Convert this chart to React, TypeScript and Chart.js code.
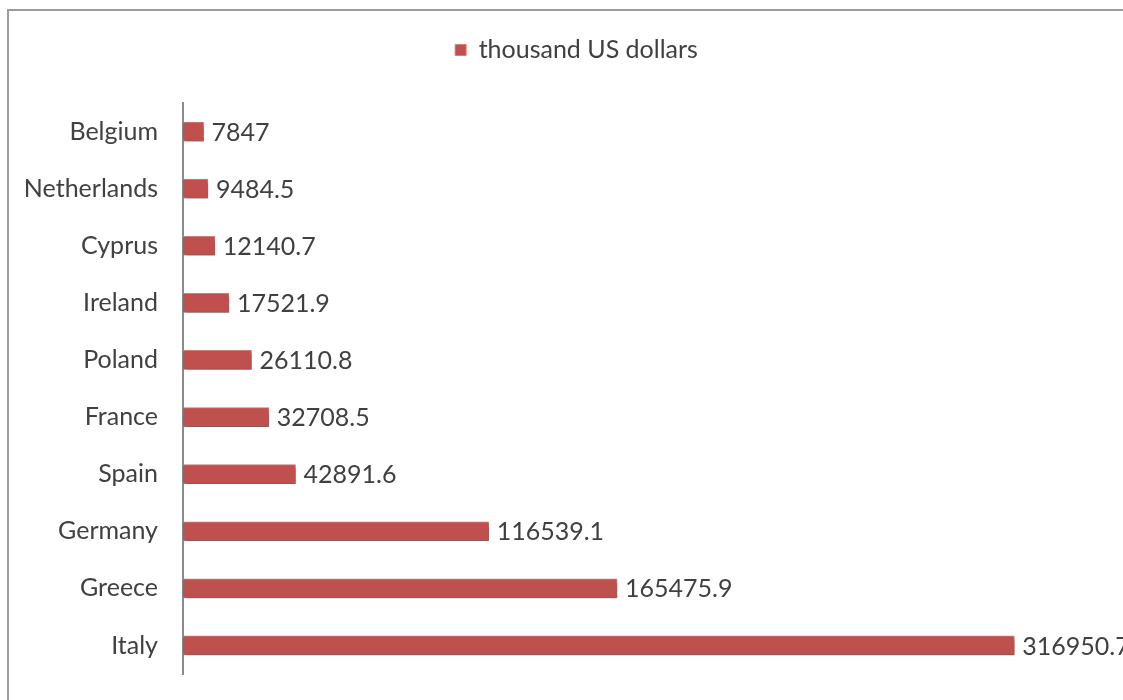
import React, { useEffect, useRef } from "react";
import { Chart, registerables } from "chart.js";

Chart.register(...registerables);

const categories = [
  "Belgium",
  "Netherlands",
  "Cyprus",
  "Ireland",
  "Poland",
  "France",
  "Spain",
  "Germany",
  "Greece",
  "Italy",
];
const values = [7847, 9484.5, 12140.7, 17521.9, 26110.8, 32708.5, 42891.6, 116539.1, 165475.9, 316950.7];
const seriesName = "thousand US dollars";
const axisMax = 350000;

const FONT = "Lato, 'Noto Sans', sans-serif";
const FS = 25;

const shadowPlugin = {
  id: "barShadow",
  beforeDatasetsDraw(chart: any) {
    const ctx = chart.ctx;
    ctx.save();
    ctx.shadowColor = "rgba(0,0,0,0.36)";
    ctx.shadowBlur = 4;
    ctx.shadowOffsetX = 2;
    ctx.shadowOffsetY = 3;
  },
  afterDatasetsDraw(chart: any) {
    chart.ctx.restore();
  },
};

const labelPlugin = {
  id: "valueLabels",
  afterDatasetsDraw(chart: any) {
    const ctx = chart.ctx;
    const meta = chart.getDatasetMeta(0);
    ctx.save();
    ctx.font = `${FS}px ${FONT}`;
    ctx.fillStyle = "#404040";
    ctx.textAlign = "left";
    ctx.textBaseline = "middle";
    meta.data.forEach((bar: any, i: number) => {
      const v = chart.data.datasets[0].data[i];
      ctx.fillText(String(v), bar.x + 8, bar.y + 1);
    });
    ctx.restore();
  },
};

// center the legend over the whole frame (Excel-style), not the padded area
const legendShift = {
  id: "legendShift",
  afterLayout(chart: any) {
    const lg = chart.legend;
    if (lg) {
      lg.left += 16;
      lg.right += 16;
    }
  },
};

export default function App() {
  const ref = useRef<HTMLCanvasElement>(null);
  useEffect(() => {
    if (!ref.current) return;
    const chart = new Chart(ref.current, {
      type: "bar",
      data: {
        labels: categories,
        datasets: [
          {
            label: seriesName,
            data: values,
            backgroundColor: "#C0504D",
            borderColor: "#D0807E",
            borderWidth: 1,
            barThickness: 19,
          },
        ],
      },
      options: {
        indexAxis: "y",
        animation: false,
        responsive: false,
        layout: { padding: { left: 20, right: 22, top: 27.5, bottom: 26 } },
        plugins: {
          legend: {
            display: true,
            position: "top",
            align: "center",
            labels: {
              boxWidth: 11,
              boxHeight: 11,
              padding: 10,
              color: "#404040",
              font: { family: FONT, size: FS },
            },
          },
          tooltip: { enabled: false },
        },
        scales: {
          x: {
            position: "top",
            min: 0,
            max: axisMax,
            display: true,
            grid: { display: false, drawTicks: false },
            border: { display: false },
            ticks: { display: false },
            afterFit: (scale: any) => {
              scale.height = 30.5;
            },
          },
          y: {
            grid: { display: false, drawTicks: false },
            border: { display: true, color: "#8a8a8a", width: 2 },
            ticks: {
              padding: 25,
              color: "#404040",
              font: { family: FONT, size: FS },
            },
            afterFit: (scale: any) => {
              scale.width = 163;
              scale.paddingTop = 0;
              scale.paddingBottom = 0;
            },
          },
        },
      },
      plugins: [shadowPlugin, labelPlugin, legendShift],
    });
    return () => chart.destroy();
  }, []);

  return (
    <div style={{ position: "fixed", left: 0, top: 0, width: 1123, height: 700, overflow: "hidden", background: "#fff" }}>
      <canvas ref={ref} width={1123} height={700} style={{ position: "absolute", left: 0, top: 0, width: 1123, height: 700 }} />
      <div
        style={{
          position: "absolute",
          left: 7,
          top: 9,
          width: 1200,
          height: 800,
          border: "2px solid #9b9b9b",
          pointerEvents: "none",
        }}
      />
    </div>
  );
}
